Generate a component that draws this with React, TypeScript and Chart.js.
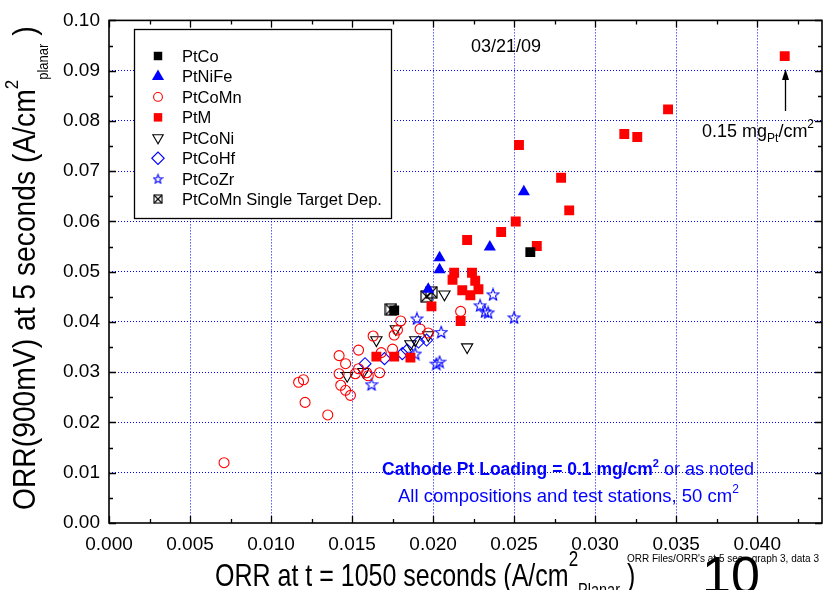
import React, { useEffect, useRef } from 'react';
import { Chart, registerables } from 'chart.js';
import { drawPoint } from 'chart.js/helpers';

Chart.register(...registerables);

const FONT = "'Liberation Sans', Arial, Helvetica, sans-serif";

// Axis ranges and ticks
const X_MIN = 0;
const X_MAX = 0.044;
const X_STEP = 0.005;
const Y_MIN = 0;
const Y_MAX = 0.1;
const Y_STEP = 0.01;

const seriesNames = [
  'PtCo',
  'PtNiFe',
  'PtCoMn',
  'PtM',
  'PtCoNi',
  'PtCoHf',
  'PtCoZr',
  'PtCoMn Single Target Dep.',
];

// Data (ORR at 1050 s vs ORR at 5 s, A/cm2)
const ptCoX = [0.026, 0.0176];
const ptCoY = [0.0539, 0.0423];

const ptNiFeX = [0.0256, 0.0235, 0.0204, 0.0204, 0.0197];
const ptNiFeY = [0.0659, 0.0549, 0.0528, 0.0504, 0.0465];

const ptCoMnX = [
  0.0071, 0.0135, 0.0121, 0.0117, 0.012, 0.0142, 0.0146, 0.0142, 0.0143, 0.0146, 0.0149, 0.0152, 0.0154,
  0.0154, 0.0159, 0.016, 0.0163, 0.0167, 0.0168, 0.0175, 0.0176, 0.0178, 0.018, 0.0192, 0.0197, 0.0217,
];
const ptCoMnY = [
  0.012, 0.0215, 0.024, 0.028, 0.0285, 0.0333, 0.0317, 0.0297, 0.0274, 0.0264, 0.0254, 0.0297, 0.0344,
  0.0307, 0.0299, 0.0293, 0.0372, 0.0299, 0.0339, 0.0346, 0.0374, 0.0384, 0.0402, 0.0386, 0.0378, 0.0421,
];

const ptMX = [
  0.0417, 0.0345, 0.0326, 0.0318, 0.0279, 0.0284, 0.0253, 0.0251, 0.0264, 0.0242, 0.0221, 0.0213, 0.0212,
  0.0224, 0.0226, 0.0218, 0.0223, 0.0228, 0.0199, 0.0217, 0.0165, 0.0176, 0.0186,
];
const ptMY = [
  0.0929, 0.0823, 0.0768, 0.0774, 0.0687, 0.0622, 0.0752, 0.06, 0.0551, 0.0579, 0.0563, 0.0498, 0.0484,
  0.0498, 0.0482, 0.0463, 0.0453, 0.0465, 0.0431, 0.0402, 0.0331, 0.0331, 0.0329,
];

const ptCoNiX = [0.0147, 0.0157, 0.0165, 0.0177, 0.0186, 0.0189, 0.0197, 0.0207, 0.0221];
const ptCoNiY = [0.0293, 0.0301, 0.0364, 0.0386, 0.0356, 0.0364, 0.0374, 0.0455, 0.035];

const ptCoHfX = [0.0158, 0.017, 0.0181, 0.0184, 0.0191, 0.0196];
const ptCoHfY = [0.0317, 0.0327, 0.0337, 0.0344, 0.036, 0.0364];

const ptCoZrX = [0.0162, 0.019, 0.0205, 0.0189, 0.0202, 0.0204, 0.0229, 0.0232, 0.0234, 0.0237, 0.025];
const ptCoZrY = [0.0276, 0.0407, 0.038, 0.0337, 0.0317, 0.0321, 0.0433, 0.0421, 0.0419, 0.0455, 0.0409];

const singleTargetX = [0.0174, 0.0196, 0.0199];
const singleTargetY = [0.0425, 0.0451, 0.0459];

const dateLabel = '03/21/09';

const pts = (xs: number[], ys: number[]) => xs.map((x, i) => ({ x, y: ys[i] }));

function makeStar(size: number, color: string, lw: number) {
  const c = document.createElement('canvas');
  c.width = size;
  c.height = size;
  const g = c.getContext('2d')!;
  const cx = size / 2;
  const cy = size / 2 + 0.6;
  const R = size / 2 - 0.8;
  const r = R * 0.42;
  g.beginPath();
  for (let i = 0; i < 10; i++) {
    const a = -Math.PI / 2 + (i * Math.PI) / 5;
    const rr = i % 2 === 0 ? R : r;
    const px = cx + rr * Math.cos(a);
    const py = cy + rr * Math.sin(a);
    if (i === 0) g.moveTo(px, py);
    else g.lineTo(px, py);
  }
  g.closePath();
  g.strokeStyle = color;
  g.lineWidth = lw;
  g.stroke();
  return c;
}

function makeCrossed(size: number, lw: number) {
  const c = document.createElement('canvas');
  c.width = size;
  c.height = size;
  const g = c.getContext('2d')!;
  const a = 1;
  const b = size - 1;
  g.strokeStyle = '#000';
  g.lineWidth = lw;
  g.strokeRect(a, a, b - a, b - a);
  g.beginPath();
  g.moveTo(a, a);
  g.lineTo(b, b);
  g.moveTo(b, a);
  g.lineTo(a, b);
  g.stroke();
  return c;
}

type Seg = { t: string; size: number; bold?: boolean; dy?: number; color?: string };

function drawRich(
  ctx: CanvasRenderingContext2D,
  x: number,
  y: number,
  segs: Seg[],
  opts: { angle?: number; sx?: number; sy?: number; color?: string } = {}
) {
  ctx.save();
  ctx.translate(x, y);
  if (opts.angle) ctx.rotate(opts.angle);
  ctx.scale(opts.sx ?? 1, opts.sy ?? 1);
  ctx.textBaseline = 'alphabetic';
  ctx.textAlign = 'left';
  let cx = 0;
  for (const s of segs) {
    ctx.font = `${s.bold ? 'bold ' : ''}${s.size}px ${FONT}`;
    ctx.fillStyle = s.color ?? opts.color ?? '#000';
    ctx.fillText(s.t, cx, s.dy ?? 0);
    cx += ctx.measureText(s.t).width;
  }
  ctx.restore();
}

export default function App() {
  const ref = useRef<HTMLCanvasElement | null>(null);

  useEffect(() => {
    document.body.style.margin = '0';
    const canvas = ref.current!;
    const star = makeStar(14, '#0000ff', 1.1);
    const crossed = makeCrossed(13, 1.2);
    const starLeg = makeStar(11, '#0000ff', 1.1);
    const crossedLeg = makeCrossed(10, 1.1);

    const clear = 'rgba(0,0,0,0)';
    const datasets: any[] = [
      { label: seriesNames[0], data: pts(ptCoX, ptCoY), pointStyle: 'rect', pointRadius: 7, backgroundColor: '#000', borderColor: '#000', borderWidth: 0 },
      { label: seriesNames[1], data: pts(ptNiFeX, ptNiFeY), pointStyle: 'triangle', pointRadius: 7, backgroundColor: '#0000ff', borderColor: '#0000ff', borderWidth: 0 },
      { label: seriesNames[2], data: pts(ptCoMnX, ptCoMnY), pointStyle: 'circle', pointRadius: 5, backgroundColor: clear, borderColor: '#ff0000', borderWidth: 1.1 },
      { label: seriesNames[3], data: pts(ptMX, ptMY), pointStyle: 'rect', pointRadius: 7, backgroundColor: '#ff0000', borderColor: '#ff0000', borderWidth: 0 },
      { label: seriesNames[4], data: pts(ptCoNiX, ptCoNiY), pointStyle: 'triangle', pointRotation: 180, pointRadius: 6.5, backgroundColor: clear, borderColor: '#000', borderWidth: 1.1 },
      { label: seriesNames[5], data: pts(ptCoHfX, ptCoHfY), pointStyle: 'rectRot', pointRadius: 6, backgroundColor: clear, borderColor: '#0000ff', borderWidth: 1.1 },
      { label: seriesNames[6], data: pts(ptCoZrX, ptCoZrY), pointStyle: star, pointRadius: 6, backgroundColor: clear, borderColor: '#0000ff', borderWidth: 1 },
      { label: seriesNames[7], data: pts(singleTargetX, singleTargetY), pointStyle: crossed, pointRadius: 6, backgroundColor: clear, borderColor: '#000', borderWidth: 1 },
    ];
    datasets.forEach((d) => {
      d.showLine = false;
      d.pointHoverRadius = d.pointRadius;
    });

    const legendItems: any[] = [
      { style: 'rect', r: 6, fill: '#000', stroke: '#000', bw: 0 },
      { style: 'triangle', r: 7, fill: '#0000ff', stroke: '#0000ff', bw: 0 },
      { style: 'circle', r: 4.4, fill: clear, stroke: '#ff0000', bw: 1.1 },
      { style: 'rect', r: 6, fill: '#ff0000', stroke: '#ff0000', bw: 0 },
      { style: 'triangle', r: 6, rot: 180, fill: clear, stroke: '#000', bw: 1.1 },
      { style: 'rectRot', r: 6.2, fill: clear, stroke: '#0000ff', bw: 1.1 },
      { style: starLeg, r: 5, fill: clear, stroke: '#0000ff', bw: 1 },
      { style: crossedLeg, r: 5, fill: clear, stroke: '#000', bw: 1 },
    ];

    const decor = {
      id: 'decor',
      beforeDraw(chart: any) {
        const c = chart.ctx;
        c.save();
        c.fillStyle = '#fff';
        c.fillRect(0, 0, chart.width, chart.height);
        c.restore();
      },
      afterDatasetsDraw(chart: any) {
        const c: CanvasRenderingContext2D = chart.ctx;
        const { left, right, top, bottom } = chart.chartArea;
        const xs = chart.scales.x;
        const ys = chart.scales.y;
        c.save();
        c.strokeStyle = '#000';
        c.lineWidth = 1.3;
        c.beginPath();
        for (let k = 0; k * (X_STEP / 2) <= X_MAX + 1e-9; k++) {
          const v = k * (X_STEP / 2);
          const len = k % 2 === 0 ? 7 : 4;
          const px = Math.round(xs.getPixelForValue(v)) + 0.5;
          c.moveTo(px, bottom);
          c.lineTo(px, bottom - len);
          c.moveTo(px, top);
          c.lineTo(px, top + len);
        }
        for (let k = 0; k * (Y_STEP / 2) <= Y_MAX + 1e-9; k++) {
          const v = k * (Y_STEP / 2);
          const len = k % 2 === 0 ? 7 : 4;
          const py = Math.round(ys.getPixelForValue(v)) + 0.5;
          c.moveTo(left, py);
          c.lineTo(left + len, py);
          c.moveTo(right, py);
          c.lineTo(right - len, py);
        }
        c.stroke();
        c.lineWidth = 1.6;
        c.strokeRect(left, top, right - left, bottom - top);
        c.restore();
      },
      afterDraw(chart: any) {
        const c: CanvasRenderingContext2D = chart.ctx;
        const xs = chart.scales.x;
        const ys = chart.scales.y;

        // Legend box
        c.save();
        c.fillStyle = '#fff';
        c.fillRect(134.5, 29.5, 257, 189);
        c.strokeStyle = '#000';
        c.lineWidth = 1.3;
        c.strokeRect(134.5, 29.5, 257, 189);
        legendItems.forEach((it, i) => {
          const cy = 56 + i * 20.45;
          c.fillStyle = it.fill;
          c.strokeStyle = it.stroke;
          c.lineWidth = it.bw;
          drawPoint(c, { pointStyle: it.style, radius: it.r, rotation: it.rot ?? 0, borderWidth: it.bw } as any, 158, cy);
          c.fillStyle = '#000';
          c.font = `16.5px ${FONT}`;
          c.textBaseline = 'alphabetic';
          c.textAlign = 'left';
          c.fillText(seriesNames[i], 182, cy + 6);
        });
        c.restore();

        // Date
        drawRich(c, 471, 52, [{ t: dateLabel, size: 18 }]);

        // Arrow to the 0.15 mg point
        const ax = Math.round(xs.getPixelForValue(ptMX[0])) + 0.5;
        const ay = ys.getPixelForValue(ptMY[0]);
        c.save();
        c.strokeStyle = '#000';
        c.fillStyle = '#000';
        c.lineWidth = 1.3;
        c.beginPath();
        c.moveTo(ax, 111);
        c.lineTo(ax, ay + 22);
        c.stroke();
        c.beginPath();
        c.moveTo(ax, ay + 13);
        c.lineTo(ax - 3.5, ay + 24);
        c.lineTo(ax + 3.5, ay + 24);
        c.closePath();
        c.fill();
        c.restore();
        drawRich(c, 702, 137, [
          { t: '0.15 mg', size: 18 },
          { t: 'Pt', size: 12, dy: 5 },
          { t: '/cm', size: 18 },
          { t: '2', size: 12, dy: -9 },
        ]);

        // Notes
        drawRich(c, 382, 475, [
          { t: 'Cathode Pt Loading = 0.1 mg/cm', size: 17.5, bold: true },
          { t: '2', size: 11, bold: true, dy: -8 },
          { t: ' or as noted', size: 18 },
        ], { color: '#0000ff' });
        drawRich(c, 398, 502, [
          { t: 'All compositions and test stations, 50 cm', size: 18.5 },
          { t: '2', size: 12, dy: -9 },
        ], { color: '#0000ff' });

        // X title
        drawRich(c, 215, 586, [
          { t: 'ORR at t = 1050 seconds (A/cm', size: 25 },
          { t: '2', size: 17, dy: -16 },
          { t: 'Planar', size: 14.5, dy: 8 },
          { t: ' )', size: 25 },
        ], { sy: 1.28 });

        // Y title
        drawRich(c, 35, 510, [
          { t: 'ORR(900mV) at 5 seconds (A/cm', size: 25 },
          { t: '2', size: 15, dy: -14 },
          { t: 'planar', size: 11.5, dy: 10 },
          { t: ' )', size: 25 },
        ], { angle: -Math.PI / 2, sx: 1.13, sy: 1.25 });

        // file note and page number
        drawRich(c, 627, 562, [{ t: "ORR Files/ORR's at 5 sec - graph 3, data 3", size: 10 }]);
        drawRich(c, 702, 593, [{ t: '10', size: 52 }]);
      },
    };

    const chart = new Chart(canvas, {
      type: 'scatter',
      data: { datasets },
      options: {
        responsive: false,
        animation: false,
        events: [],
        layout: { padding: { left: 0, right: 9, top: 15, bottom: 0 } },
        plugins: { legend: { display: false }, tooltip: { enabled: false } },
        scales: {
          x: {
            type: 'linear',
            position: 'bottom',
            min: X_MIN,
            max: X_MAX,
            afterFit: (s: any) => {
              s.height = 67;
            },
            ticks: {
              stepSize: X_STEP,
              includeBounds: false,
              autoSkip: false,
              maxRotation: 0,
              padding: 10,
              color: '#000',
              font: { family: FONT, size: 19 },
              callback: (v: any) => Number(v).toFixed(3),
            },
            grid: {
              drawTicks: false,
              lineWidth: 1,
              color: (ctx: any) => (ctx.tick && ctx.tick.value > 1e-9 ? '#0000ff' : 'rgba(0,0,0,0)'),
            },
            border: { display: false, dash: [1, 2] },
          },
          y: {
            type: 'linear',
            min: Y_MIN,
            max: Y_MAX,
            afterFit: (s: any) => {
              s.width = 109;
            },
            ticks: {
              stepSize: Y_STEP,
              includeBounds: false,
              autoSkip: false,
              padding: 9,
              color: '#000',
              font: { family: FONT, size: 19 },
              callback: (v: any) => Number(v).toFixed(2),
            },
            grid: {
              drawTicks: false,
              lineWidth: 1,
              color: (ctx: any) =>
                ctx.tick && ctx.tick.value > 1e-9 && ctx.tick.value < Y_MAX - 1e-6 ? '#0000ff' : 'rgba(0,0,0,0)',
            },
            border: { display: false, dash: [1, 2] },
          },
        },
      },
      plugins: [decor],
    });

    return () => chart.destroy();
  }, []);

  return (
    <div style={{ width: 831, height: 590 }}>
      <canvas ref={ref} width={831} height={590} style={{ display: 'block', width: 831, height: 590 }} />
    </div>
  );
}
